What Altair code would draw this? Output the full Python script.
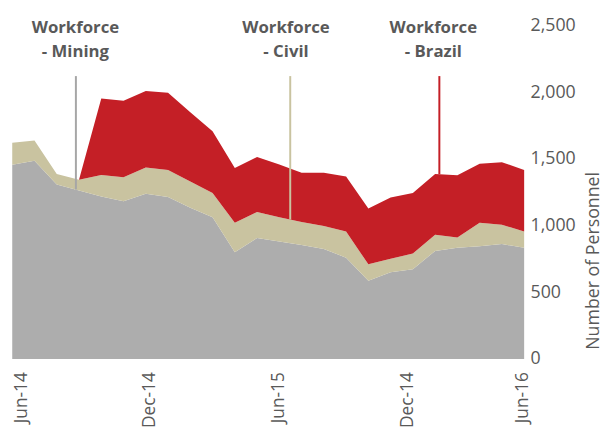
import altair as alt
import pandas as pd
import numpy as np

# Monthly data Jun-14 .. May-16 (24 points)
month_idx = list(range(24))
mining = [1457, 1487, 1309, 1265, 1220, 1183, 1240, 1215, 1135, 1063, 801, 907,
          882, 856, 826, 760, 586, 651, 673, 811, 834, 845, 862, 834]
civil = [165, 153, 79, 79, 161, 180, 197, 203, 197, 182, 222, 195,
         182, 172, 172, 196, 124, 101, 118, 121, 78, 178, 146, 122]
brazil = [None, None, None, 0, 574, 575, 573, 579, 519, 463, 410, 414,
          395, 370, 400, 414, 419, 459, 454, 456, 466, 441, 469, 462]

series_names = ["Mining", "Civil", "Brazil"]
series_colors = ["#ADADAD", "#C9C3A0", "#C41F26"]

tick_pos = [0.25, 6, 11.8, 17.6, 22.75]
tick_labels = ["Jun-14", "Dec-14", "Jun-15", "Dec-14", "Jun-16"]
y_ticks = [0, 500, 1000, 1500, 2000, 2500]

ann_line1 = ["Workforce", "Workforce", "Workforce"]
ann_line2 = ["- Mining", "- Civil", "- Brazil"]
ann_line_x = [2.86, 12.49, 19.19]
ann_text_x = [2.84, 12.3, 18.92]
ann_colors = ["#A6A6A6", "#C9C3A0", "#C41F26"]

FONT = "Open Sans"
TXT = "#595959"

rows = []
for k, (name, vals) in enumerate(zip(series_names, [mining, civil, brazil])):
    for i, v in zip(month_idx, vals):
        if v is None:
            continue
        rows.append({"m": i, "value": v, "series": name, "ord": k})
df = pd.DataFrame(rows)

# cumulative tops for annotation rule ends
cum_m = np.array(mining, dtype=float)
cum_c = cum_m + np.array(civil, dtype=float)
cum_b = cum_c + np.array([0 if v is None else v for v in brazil], dtype=float)
ends = [np.interp(ann_line_x[0], month_idx, cum_m),
        np.interp(ann_line_x[1], month_idx, cum_c),
        np.interp(ann_line_x[2], month_idx, cum_b)]
ann_rules = pd.DataFrame({"m": ann_line_x, "value": ends, "col": ann_colors})
ann_text = pd.DataFrame({"m": ann_text_x, "l1": ann_line1, "l2": ann_line2})

# label expression
expr = "''"
for p, lab in reversed(list(zip(tick_pos, tick_labels))):
    expr = f"abs(datum.value - {p}) < 0.5 ? '{lab}' : ({expr})"

xscale = alt.Scale(domain=[0, 23], nice=False, zero=False)
yscale = alt.Scale(domain=[0, 2500], nice=False)

areas = alt.Chart(df).mark_area(interpolate="linear").encode(
    x=alt.X("m:Q", scale=xscale, title=None,
            axis=alt.Axis(values=tick_pos, labelExpr=expr, labelAngle=270,
                          labelAlign="right", labelBaseline="middle",
                          labelPadding=13, labelOffset=4, grid=False,
                          domain=False, ticks=False,
                          labelFontSize=17.5, labelColor=TXT, labelFont=FONT,
                          labelFlush=False, labelOverlap=False)),
    y=alt.Y("value:Q", stack="zero", scale=yscale, title="Number of Personnel",
            axis=alt.Axis(orient="right", values=y_ticks,
                          labelExpr="format(datum.value, ',')",
                          grid=False, domain=False, ticks=False,
                          labelFontSize=18, labelColor=TXT, labelFont=FONT,
                          labelPadding=6, labelAlign="left",
                          titleFontSize=18,
                          titleFont=FONT, titleFontWeight="normal",
                          titleColor=TXT, titleAngle=270, titleX=75,
                          titleY=238, titleAlign="center",
                          titleBaseline="alphabetic")),
    color=alt.Color("series:N", scale=alt.Scale(domain=series_names,
                                                  range=series_colors),
                    legend=None),
    order=alt.Order("ord:Q", sort="ascending"),
)

rules = alt.Chart(ann_rules).mark_rule(strokeWidth=2).encode(
    x=alt.X("m:Q"),
    y=alt.Y("value:Q"),
    y2=alt.value(51),
    color=alt.Color("col:N", scale=None),
)

text1 = alt.Chart(ann_text).mark_text(font=FONT, fontSize=17, fontWeight="bold",
                                      color=TXT, align="center",
                                      baseline="alphabetic").encode(
    x=alt.X("m:Q"),
    y=alt.value(7),
    text="l1:N",
)
text2 = alt.Chart(ann_text).mark_text(font=FONT, fontSize=17, fontWeight="bold",
                                      color=TXT, align="center",
                                      baseline="alphabetic").encode(
    x=alt.X("m:Q"),
    y=alt.value(32),
    text="l2:N",
)

chart = alt.layer(areas, rules, text1, text2).properties(
    width=519.4, height=338,
    autosize=alt.AutoSizeParams(type="none"),
    padding={"left": 4.3, "top": 15, "right": 80, "bottom": 69},
    background="white",
).configure_view(stroke=None)

chart.save("out.html", embed_options={"renderer": "svg", "actions": False})
